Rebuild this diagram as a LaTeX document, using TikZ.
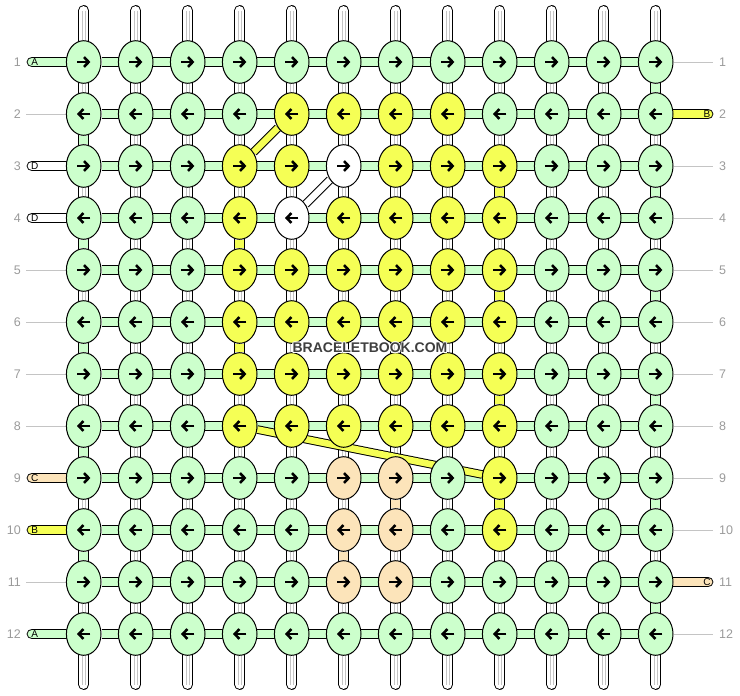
\documentclass[tikz,border=0pt]{standalone}
\usepackage{fontspec}
\setmainfont{Liberation Sans}
\usetikzlibrary{shapes.geometric,arrows.meta}
\pgfdeclarelayer{bg}
\pgfsetlayers{bg,main}
\definecolor{knotg}{HTML}{CCFFCC}
\definecolor{knoty}{HTML}{F5FF55}
\definecolor{knoto}{HTML}{FCE4BA}
\definecolor{knotw}{HTML}{FFFFFF}
\definecolor{numgray}{HTML}{9A9A9A}
\definecolor{linegray}{HTML}{C4C4C4}
\definecolor{wmgray}{HTML}{3F3F3F}
\tikzset{
  knot/.style={ellipse, draw, line width=1pt, minimum width=34.6pt, minimum height=42.6pt, inner sep=0pt},
  knotarrow/.style={line width=2.6pt, -{Straight Barb[length=4.6pt,width=9.8pt]}},
  dirknot1/.style={knot, path picture={\draw[knotarrow] ([xshift=-6.7pt]path picture bounding box.center) -- ([xshift=6.7pt]path picture bounding box.center);}},
  dirknot0/.style={knot, path picture={\draw[knotarrow] ([xshift=6.7pt]path picture bounding box.center) -- ([xshift=-6.7pt]path picture bounding box.center);}},
  band/.style={line width=1pt, double=#1, double distance=8.8pt},
  diag/.style={line width=1pt, double=#1, double distance=6.6pt},
  tab/.style={band=#1, line cap=round},
  rowline/.style={linegray, line width=1pt},
  rownum/.style={text=numgray, font=\fontsize{12.5}{14}\selectfont, inner sep=0pt},
  tabtext/.style={font=\fontsize{10}{12}\selectfont, inner sep=0pt},
  watermark/.style={text=wmgray, font=\fontsize{14}{16}\selectfont\bfseries, inner sep=1pt},
  halo/.style={watermark, text=white}
}
\begin{document}
\begin{tikzpicture}[x=1pt,y=-1pt]
    \useasboundingbox (0,0) rectangle (740,696);
    %% knots
    \foreach \r/\cols in {1/{g,g,g,g,g,g,g,g,g,g,g,g},2/{g,g,g,g,y,y,y,y,g,g,g,g},
        3/{g,g,g,y,y,w,y,y,y,g,g,g},4/{g,g,g,y,w,y,y,y,y,g,g,g},
        5/{g,g,g,y,y,y,y,y,y,g,g,g},6/{g,g,g,y,y,y,y,y,y,g,g,g},
        7/{g,g,g,y,y,y,y,y,y,g,g,g},8/{g,g,g,y,y,y,y,y,y,g,g,g},
        9/{g,g,g,g,g,o,o,g,y,g,g,g},10/{g,g,g,g,g,o,o,g,y,g,g,g},
        11/{g,g,g,g,g,o,o,g,g,g,g,g},12/{g,g,g,g,g,g,g,g,g,g,g,g}}{
        \pgfmathtruncatemacro\odd{mod(\r,2)}
        \foreach \k [count=\c] in \cols
            \node[dirknot\odd, fill=knot\k] (k-\r-\c) at ({83.7+52*(\c-1)},{62+52*(\r-1)}) {};
        \node[rownum, anchor=east] (ln-\r) at (21,{62+52*(\r-1)}) {\r};
        \node[rownum, anchor=west] (rn-\r) at (719,{62+52*(\r-1)}) {\r};
    }
    %% string ends
    \foreach \r/\l/\col in {1/A/g,3/D/w,4/D/w,9/C/o,10/B/y,12/A/g}{
        \node[tabtext] (lt-\r) at (34.7,{62+52*(\r-1)}) {\l};
        \coordinate (le-\r) at (32,{62+52*(\r-1)});
    }
    \foreach \r/\l/\col in {2/B/y,11/C/o}{
        \node[tabtext] (rt-\r) at (707,{62+52*(\r-1)}) {\l};
        \coordinate (re-\r) at (708,{62+52*(\r-1)});
    }
    \foreach \a [count=\i] in {0,45,...,315}
        \node[halo] (wh-\i) at ([shift={(\a:0.9)}]370,348) {BRACELETBOOK.COM};
    \node[watermark] (wm) at (370,348) {BRACELETBOOK.COM};
    \begin{pgfonlayer}{bg}
        %% warp strings
        \foreach \c in {1,...,12}{
            \coordinate (wt-\c) at ({83.7+52*(\c-1)},10.5);
            \coordinate (wb-\c) at ({83.7+52*(\c-1)},684.5);
            \draw[line width=10.8pt, line cap=round] (wt-\c) -- (wb-\c);
            \draw[white, line width=8.8pt, line cap=round] (wt-\c) -- (wb-\c);
            \draw[linegray, line width=0.8pt, double=white, double distance=2pt] (wt-\c) -- (wb-\c);
        }
        %% rows
        \foreach \r in {1,...,12}
            \draw[band=knotg] (k-\r-1) -- (k-\r-12);
        \foreach \r/\l/\col in {1/A/g,3/D/w,4/D/w,9/C/o,10/B/y,12/A/g}
            \draw[tab=knot\col] (le-\r) -- (k-\r-1);
        \foreach \r/\l/\col in {2/B/y,11/C/o}
            \draw[tab=knot\col] (re-\r) -- (k-\r-12);
        \foreach \r in {2,5,6,7,8,11}{
            \coordinate (lg-\r) at (26,{62+52*(\r-1)});
            \draw[rowline] (lg-\r) -- (k-\r-1.west);
        }
        \foreach \r in {1,3,4,5,6,7,8,9,10,12}{
            \coordinate (rg-\r) at (713,{62+52*(\r-1)});
            \draw[rowline] (k-\r-12.east) -- (rg-\r);
        }
        %% links down to the next row
        \foreach \r/\c/\col in {1/12/g,2/1/g,3/12/g,4/1/g,5/12/g,6/1/g,7/12/g,8/1/g,9/12/g,10/1/g,11/12/g,
            3/9/y,4/4/y,5/9/y,6/4/y,7/9/y,9/9/y,9/7/o,10/6/o}{
            \pgfmathtruncatemacro\rr{\r+1}
            \draw[band=knot\col] (k-\r-\c) -- (k-\rr-\c);
        }
        %% crossings
        \draw[diag=knoty] (k-2-5) -- (k-3-4);
        \draw[diag=knotw] (k-3-6) -- (k-4-5);
        \draw[diag=knoty] (k-8-4) -- (k-9-9);
    \end{pgfonlayer}
\end{tikzpicture}
\end{document}
